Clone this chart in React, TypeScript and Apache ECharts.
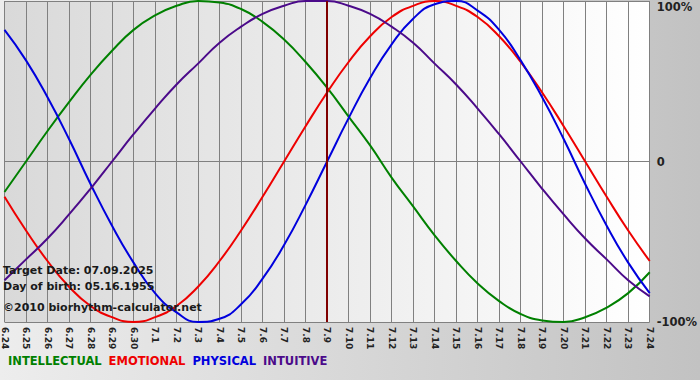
import React, { useEffect, useRef } from "react";
import * as echarts from "echarts";

const dates = [
  "6.24", "6.25", "6.26", "6.27", "6.28", "6.29", "6.30", "7.1", "7.2", "7.3", "7.4",
  "7.5", "7.6", "7.7", "7.8", "7.9", "7.10", "7.11", "7.12", "7.13", "7.14", "7.15",
  "7.16", "7.17", "7.18", "7.19", "7.20", "7.21", "7.22", "7.23", "7.24",
];

const intellectual = [
  -19, 0, 19, 37, 54, 69, 82, 91, 97, 100, 99, 95, 87, 76, 62, 46, 28, 10, -10, -28,
  -46, -62, -76, -87, -95, -99, -100, -97, -91, -82, -69,
];
const emotional = [
  -22, -43, -62, -78, -90, -97, -100, -97, -90, -78, -62, -43, -22, 0, 22, 43, 62, 78,
  90, 97, 100, 97, 90, 78, 62, 43, 22, 0, -22, -43, -62,
];
const physical = [
  82, 63, 40, 14, -14, -40, -63, -82, -94, -100, -98, -89, -73, -52, -27, 0, 27, 52, 73,
  89, 98, 100, 94, 82, 63, 40, 14, -14, -40, -63, -82,
];
const intuitive = [
  -74, -61, -48, -33, -17, 0, 17, 33, 48, 61, 74, 84, 92, 97, 100, 100, 97, 92, 84, 74,
  61, 48, 33, 17, 0, -17, -33, -48, -61, -74, -84,
];

const seriesNames = ["INTELLECTUAL", "EMOTIONAL", "PHYSICAL", "INTUITIVE"];
const seriesColors = ["#008000", "#ee0000", "#0000dd", "#4b0a8a"];
const targetDate = "7.9";
const infoLines = [
  "Target Date: 07.09.2025",
  "Day of birth: 05.16.1955",
  "©2010 biorhythm-calculator.net",
];

export default function App() {
  const ref = useRef<HTMLDivElement>(null);
  useEffect(() => {
    if (!ref.current) return;
    const chart = echarts.init(ref.current, undefined, { renderer: "svg" });
    const font = "DejaVu Sans";
    const data = [intellectual, emotional, physical, intuitive];
    chart.setOption({
      animation: false,
      backgroundColor: new echarts.graphic.LinearGradient(0, 0, 1, 0, [
        { offset: 0, color: "#ededed" },
        { offset: 1, color: "#c2c2c2" },
      ]),
      grid: {
        left: 1,
        right: 49,
        top: 1,
        bottom: 58,
        show: true,
        borderWidth: 0,
        backgroundColor: new echarts.graphic.LinearGradient(0, 0, 1, 0, [
          { offset: 0, color: "#d9d9d9" },
          { offset: 1, color: "#ffffff" },
        ]),
      },
      legend: {
        left: 3,
        top: 354,
        icon: "none",
        itemWidth: 0,
        itemGap: 2,
        padding: 0,
        textStyle: { fontFamily: font, fontWeight: "bold", fontSize: 11.5 },
        data: seriesNames.map((n, i) => ({
          name: n,
          textStyle: { color: seriesColors[i] },
        })),
      },
      xAxis: {
        type: "category",
        data: dates,
        boundaryGap: false,
        axisLine: { show: true, lineStyle: { color: "#808080", width: 1 } },
        axisTick: { show: true, length: 4, lineStyle: { color: "#808080" } },
        splitLine: { show: true, lineStyle: { color: "#808080", width: 1 } },
        axisLabel: {
          interval: 0,
          rotate: -90,
          margin: 5,
          fontFamily: font,
          fontWeight: "bold",
          fontSize: 9,
          color: "#222",
        },
      },
      yAxis: {
        type: "value",
        position: "right",
        min: -100,
        max: 100,
        interval: 100,
        axisLine: { show: false },
        axisTick: { show: false },
        splitLine: { show: true, lineStyle: { color: "#808080", width: 1 } },
        axisLabel: {
          margin: 7,
          fontFamily: font,
          fontWeight: "bold",
          fontSize: 11.5,
          color: "#222",
          verticalAlignMaxLabel: "top",
          formatter: (v: number) => (v === 0 ? "0" : v + "%"),
        },
      },
      graphic: infoLines.map((t, i) => ({
        type: "text",
        left: 3,
        top: [265, 281, 302][i],
        z: 10,
        style: {
          text: t,
          fill: "#1a1a1a",
          font: `bold 11px "${font}"`,
        },
      })),
      series: seriesNames.map((n, i) => ({
        name: n,
        type: "line",
        data: data[i],
        smooth: true,
        symbol: "none",
        lineStyle: { color: seriesColors[i], width: 2 },
        itemStyle: { color: seriesColors[i] },
        markLine:
          i === 0
            ? {
                silent: true,
                symbol: "none",
                label: { show: false },
                lineStyle: { color: "#800000", width: 2, type: "solid" },
                data: [{ xAxis: targetDate }],
              }
            : undefined,
      })),
    });
    return () => chart.dispose();
  }, []);
  return (
    <div
      ref={ref}
      style={{ position: "fixed", left: 0, top: 0, width: 700, height: 380 }}
    />
  );
}
